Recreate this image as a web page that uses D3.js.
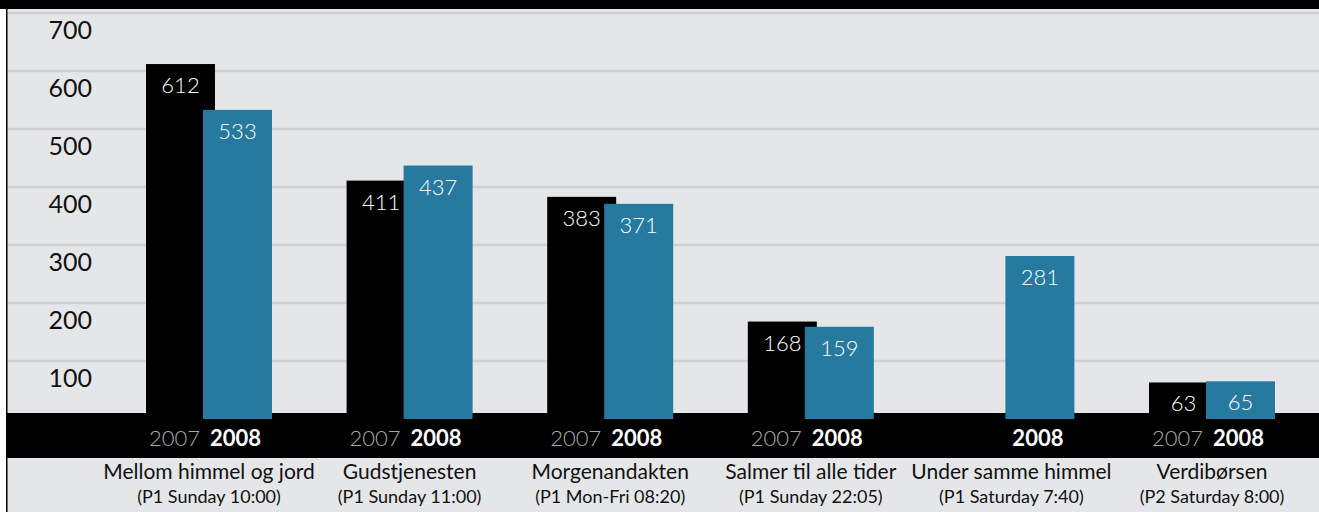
<!DOCTYPE html>
<html>
<head>
<meta charset="utf-8">
<script src="https://cdn.jsdelivr.net/npm/d3@7"></script>
<style>
  body { margin: 0; background: #fff; }
  svg { display: block; font-family: Lato, "Open Sans", sans-serif; }
</style>
</head>
<body>
<div id="chart"></div>
<script>
// data
const programmes = ["Mellom himmel og jord", "Gudstjenesten", "Morgenandakten",
    "Salmer til alle tider", "Under samme himmel", "Verdibørsen"];
const slots = ["(P1 Sunday 10:00)", "(P1 Sunday 11:00)", "(P1 Mon-Fri 08:20)",
    "(P1 Sunday 22:05)", "(P1 Saturday 7:40)", "(P2 Saturday 8:00)"];
const years = ["2007", "2008"];
const values2007 = [612, 411, 383, 168, null, 63];
const values2008 = [533, 437, 371, 159, 281, 65];
const yTicks = [100, 200, 300, 400, 500, 600, 700];

const W = 1319, H = 512;
const colors = {"2007": "#000000", "2008": "#26799f"};

const svg = d3.select("#chart").append("svg")
    .attr("width", W)
    .attr("height", H);

// background panel
svg.append("rect").attr("x", 0).attr("y", 0).attr("width", W).attr("height", H).attr("fill", "#ffffff");
svg.append("rect").attr("x", 7).attr("y", 0).attr("width", W - 7).attr("height", H).attr("fill", "#e5e6e8");

const y = d3.scaleLinear().domain([0, 700]).range([419, 13]);
const x = d3.scaleBand().domain(programmes).range([108.7, 1312.3]);
const barW = 69;
const xYear = d3.scalePoint().domain(years).range([-63, -6]);

// gridlines
svg.append("g").selectAll("line")
    .data(yTicks)
    .join("line")
    .attr("x1", 7).attr("x2", W)
    .attr("y1", d => y(d)).attr("y2", d => y(d))
    .attr("stroke", "#cfd0d2")
    .attr("stroke-width", 2.5);

// tick labels
svg.append("g").selectAll("text")
    .data(yTicks)
    .join("text")
    .attr("x", 92)
    .attr("y", d => y(d) + 26)
    .attr("text-anchor", "end")
    .attr("font-size", 25)
    .attr("fill", "#111")
    .text(d => d);

// top band + bottom band
svg.append("rect").attr("x", 0).attr("y", 0).attr("width", W).attr("height", 9).attr("fill", "#000");
svg.append("rect").attr("x", 7).attr("y", 413).attr("width", W - 7).attr("height", 45).attr("fill", "#000");

// bars
const rows = programmes.map((p, i) => ({p: p, i: i, v: {"2007": values2007[i], "2008": values2008[i]}}));
const groups = svg.append("g").selectAll("g")
    .data(rows)
    .join("g")
    .attr("transform", d => "translate(" + (x(d.p) + x.bandwidth() / 2) + ",0)");

years.forEach(yr => {
    const sel = groups.filter(d => d.v[yr] != null);
    sel.append("rect")
        .attr("x", xYear(yr))
        .attr("y", d => y(d.v[yr]))
        .attr("width", barW)
        .attr("height", d => y(0) - y(d.v[yr]))
        .attr("fill", colors[yr]);
    sel.append("text")
        .attr("x", xYear(yr) + barW / 2)
        .attr("y", d => y(d.v[yr]) + 29)
        .attr("text-anchor", "middle")
        .attr("font-size", 22)
        .attr("font-weight", 300)
        .attr("fill", "#fff")
        .text(d => d.v[yr]);
});

// year labels in the black band
groups.filter(d => d.v["2007"] != null).append("text")
    .attr("x", xYear("2008") - 3)
    .attr("y", 446)
    .attr("text-anchor", "end")
    .attr("font-size", 22)
    .attr("font-weight", 300)
    .attr("fill", "#a8a8a8")
    .text("2007");
groups.append("text")
    .attr("x", xYear("2008") + barW / 2 - 2)
    .attr("y", 446)
    .attr("text-anchor", "middle")
    .attr("font-size", 22)
    .attr("font-weight", "bold")
    .attr("fill", "#fff")
    .text("2008");

// category labels
groups.append("text")
    .attr("x", 0)
    .attr("y", 479)
    .attr("text-anchor", "middle")
    .attr("font-size", 21)
    .attr("fill", "#111")
    .text(d => d.p);
groups.append("text")
    .attr("x", 0)
    .attr("y", 503)
    .attr("text-anchor", "middle")
    .attr("font-size", 18)
    .attr("fill", "#111")
    .text(d => slots[d.i]);

// left border
svg.append("rect").attr("x", 6).attr("y", 0).attr("width", 1.5).attr("height", H).attr("fill", "#000");
</script>
</body>
</html>
